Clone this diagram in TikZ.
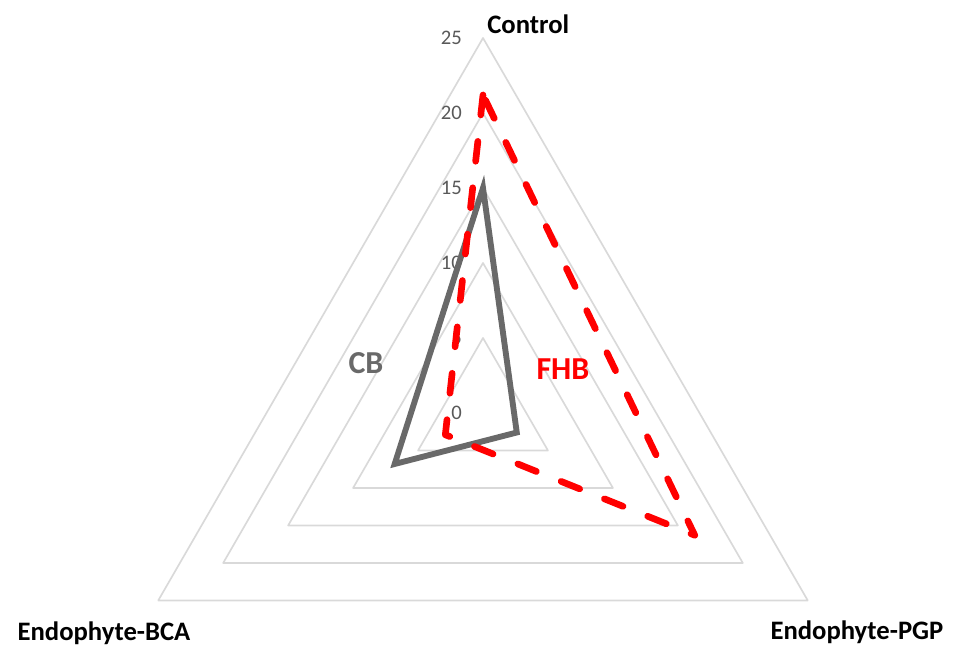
\documentclass[tikz,border=0pt]{standalone}
\usepackage{fontspec}
\setmainfont{Carlito}
\definecolor{gridgray}{RGB}{217,217,217}
\definecolor{tickgray}{RGB}{89,89,89}
\definecolor{cbgray}{RGB}{105,105,105}
\begin{document}
\begin{tikzpicture}[x=11.25pt,y=11.25pt,line join=round]
        % Styles
        \tikzstyle{grid ring}=[draw=gridgray,line width=1.25pt]
        \tikzstyle{tick label}=[anchor=east,text=tickgray,inner sep=0pt,font=\fontsize{15.5}{18}\selectfont]
        \tikzstyle{axis label}=[inner sep=0pt,font=\bfseries\fontsize{20}{24}\selectfont]
        \tikzstyle{series label}=[inner sep=0pt,font=\bfseries\fontsize{24}{28}\selectfont]
        \tikzstyle{cb line}=[draw=cbgray,line width=4.4pt,line join=miter]
        \tikzstyle{fhb line}=[draw=red,line width=5pt,line cap=round,dash pattern=on 15pt off 20pt]
        \useasboundingbox (-32.2,-15.533) rectangle (31.733,27.533);
        %rings
        \foreach \r in {5,10,...,25}
        \draw[style=grid ring] (90:\r) -- (210:\r) -- (330:\r) -- cycle;
        %scale
        \foreach \r in {0,5,...,25}
        \node[tick label] (tick\r) at (-1.4,\r) {\r};
        %axes names
        \node[axis label,anchor=base west] (control) at (0.27,25.27) {Control};
        \node[axis label,anchor=base] (bca) at (-25.27,-15.2) {Endophyte-BCA};
        \node[axis label,anchor=base] (pgp) at (24.93,-15.13) {Endophyte-PGP};
        %points
        \coordinate (cb control) at (90:15);
        \coordinate (cb bca) at (210:6.8);
        \coordinate (cb pgp) at (330:2.6);
        \coordinate (fhb control) at (90:21.2);
        \coordinate (fhb bca) at (210:2.9);
        \coordinate (fhb pgp) at (330:16.3);
        \draw[style=cb line] (cb control) -- (cb bca) -- (cb pgp) -- cycle;
        \draw[style=fhb line] (fhb control) -- (fhb bca) -- (fhb pgp) -- cycle;
        %series names
        \node[series label,text=cbgray] (cb) at (-7.8,3.33) {CB};
        \node[series label,text=red] (fhb) at (5.33,2.93) {FHB};
\end{tikzpicture}
\end{document}
